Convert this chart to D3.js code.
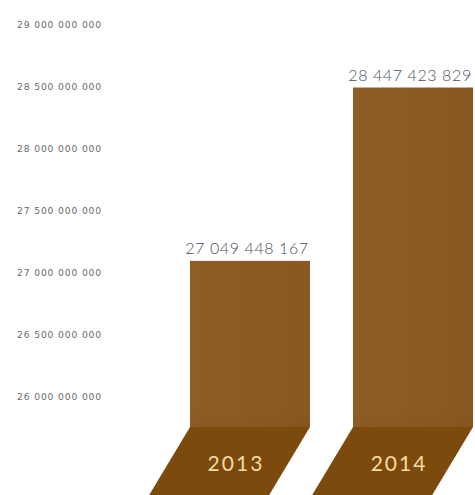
<!DOCTYPE html>
<html>
<head>
<meta charset="utf-8">
<script src="https://cdn.jsdelivr.net/npm/d3@7"></script>
<style>
  html, body { margin: 0; padding: 0; background: #ffffff; }
  svg { display: block; }
</style>
</head>
<body>
<div id="chart"></div>
<script>
// Yearly totals
const years = ["2013", "2014"];
const totals = [27049448167, 28447423829];
const tickValues = [26000000000, 26500000000, 27000000000, 27500000000,
                    28000000000, 28500000000, 29000000000];

const width = 475, height = 495;

const fr = d3.formatLocale({ decimal: ",", thousands: " ", grouping: [3], currency: ["", ""] });
const fmt = fr.format(",d");

const svg = d3.select("#chart").append("svg")
  .attr("width", width).attr("height", height);

const y = d3.scaleLinear().domain([26e9, 29e9]).range([391, 19]);
const x = d3.scaleBand().domain(years).range([190, 473]).paddingInner(0.264).paddingOuter(0);

const baseY = 427;          // where columns meet the slanted footers
const footerDepth = 80;     // footer runs past the bottom edge
const shear = 0.6;          // horizontal shift per pixel of footer depth

// Gradients for columns and footers
const defs = svg.append("defs");
const colGrad = defs.append("linearGradient").attr("id", "colGrad")
  .attr("x1", 0).attr("y1", 0).attr("x2", 1).attr("y2", 0);
colGrad.append("stop").attr("offset", "0%").attr("stop-color", "#8f5e28");
colGrad.append("stop").attr("offset", "100%").attr("stop-color", "#885822");

const shadeGrad = defs.append("linearGradient").attr("id", "shadeGrad")
  .attr("x1", 0).attr("y1", 0).attr("x2", 0).attr("y2", 1);
shadeGrad.append("stop").attr("offset", "0%").attr("stop-color", "#7a4a14").attr("stop-opacity", 0);
shadeGrad.append("stop").attr("offset", "100%").attr("stop-color", "#7a4a14").attr("stop-opacity", 0.2);

// Axis labels (no line, no ticks)
const axis = d3.axisLeft(y).tickValues(tickValues).tickSize(0).tickPadding(0)
  .tickFormat(d => fmt(d));
const gAxis = svg.append("g").attr("transform", "translate(102,6)").call(axis);
gAxis.select(".domain").remove();
gAxis.selectAll("text")
  .attr("fill", "#6a6a6a")
  .style("font-family", "'DejaVu Sans', sans-serif")
  .style("font-size", "9.2px")
  .style("letter-spacing", "0.85px");

// Slanted footers
svg.append("g").selectAll("path").data(years).join("path")
  .attr("d", d => {
    const x0 = x(d), x1 = x(d) + x.bandwidth();
    const dx = footerDepth * shear;
    return `M${x0},${baseY}L${x1},${baseY}L${x1 - dx},${baseY + footerDepth}L${x0 - dx},${baseY + footerDepth}Z`;
  })
  .attr("fill", "#7c4a0d");

// Columns
const cols = svg.append("g");
cols.selectAll("rect.col").data(totals).join("rect")
  .attr("class", "col")
  .attr("x", (d, i) => x(years[i]))
  .attr("y", d => y(d))
  .attr("width", x.bandwidth())
  .attr("height", d => baseY - y(d))
  .attr("fill", "url(#colGrad)");
cols.selectAll("rect.shade").data(totals).join("rect")
  .attr("class", "shade")
  .attr("x", (d, i) => x(years[i]))
  .attr("y", baseY - 16)
  .attr("width", x.bandwidth())
  .attr("height", 16)
  .attr("fill", "url(#shadeGrad)");

// Value labels
svg.append("g").selectAll("text").data(totals).join("text")
  .attr("x", (d, i) => x(years[i]) + x.bandwidth() / 2 - 3)
  .attr("y", d => y(d) - 7)
  .attr("text-anchor", "middle")
  .attr("fill", "#46505e")
  .style("font-family", "Lato, sans-serif")
  .style("font-weight", 300)
  .style("font-size", "16px")
  .style("letter-spacing", "0.6px")
  .text(d => fmt(d));

// Year labels on footers
svg.append("g").selectAll("text").data(years).join("text")
  .attr("x", d => x(d) + x.bandwidth() / 2 - 14)
  .attr("y", baseY + 44)
  .attr("text-anchor", "middle")
  .attr("fill", "#f2dca6")
  .style("font-family", "Lato, sans-serif")
  .style("font-weight", 400)
  .style("letter-spacing", "2px")
  .style("font-size", "21px")
  .text(d => d);
</script>
</body>
</html>
